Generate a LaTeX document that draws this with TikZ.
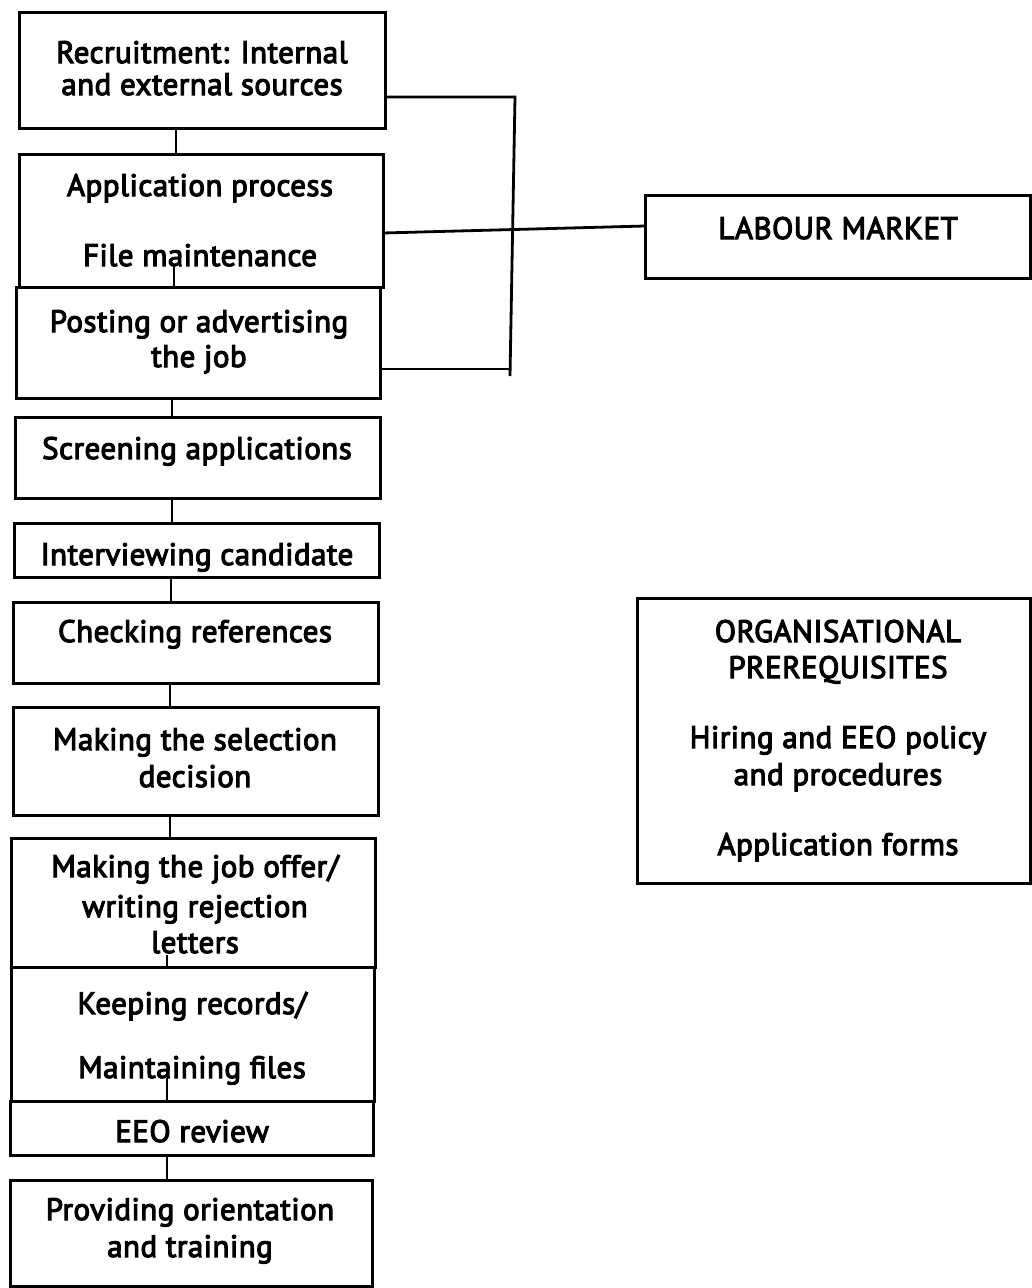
\documentclass[tikz,border=0pt]{standalone}
\usepackage{fontspec}
\setmainfont{PT Sans}[FakeBold=3.6, LetterSpace=1.5]
\usetikzlibrary{fit}
\begin{document}
\begin{tikzpicture}[x=1pt,y=-1pt,
  box/.style={draw, line width=3pt, inner sep=0pt, outer sep=0pt, rectangle},
  txt/.style={anchor=base, inner sep=0pt, font=\fontsize{31}{37}\selectfont},
  link/.style={line width=2.8pt}]
\useasboundingbox (0,0) rectangle (1031,1288);

% main sequence of boxes
\node[box, fit={(19,12) (385,128)}]  (b1) {};
\node[box, fit={(19,154) (383,287)}] (b2) {};
\node[box, fit={(16,287) (380,398)}] (b3) {};
\node[box, fit={(15,417) (380,498)}] (b4) {};
\node[box, fit={(14,523) (379,577)}] (b5) {};
\node[box, fit={(13,602) (378,683)}] (b6) {};
\node[box, fit={(13,707) (378,815)}] (b7) {};
\node[box, fit={(11,838) (375,967)}] (b8) {};
\node[box, fit={(11,967) (374,1101)}] (b9) {};
\node[box, fit={(10,1101) (373,1155)}] (b10) {};
\node[box, fit={(10,1180) (372,1286)}] (b11) {};

% side boxes
\node[box, fit={(645,195) (1030,278)}] (lm) {};
\node[box, fit={(637,598) (1030,883)}] (op) {};

% labels
\node[txt] (t1a) at (202,63) {Recruitment: Internal};
\node[txt] (t1b) at (202,95) {and external sources};
\node[txt] (t2a) at (200,196) {Application process};
\node[txt] (t2b) at (200,266) {File maintenance};
\node[txt] (t3a) at (199,332) {Posting or advertising};
\node[txt] (t3b) at (199,367) {the job};
\node[txt] (t4)  at (197,459) {Screening applications};
\node[txt] (t5)  at (197,565) {Interviewing candidate};
\node[txt] (t6)  at (195,642) {Checking references};
\node[txt] (t7a) at (195,750) {Making the selection};
\node[txt] (t7b) at (195,787) {decision};
\node[txt] (t8a) at (195,877) {Making the job offer/};
\node[txt] (t8b) at (195,917) {writing rejection};
\node[txt] (t8c) at (195,953) {letters};
\node[txt] (t9a) at (192,1014) {Keeping records/};
\node[txt] (t9b) at (192,1078) {Maintaining files};
\node[txt] (t10) at (192,1142) {EEO review};
\node[txt] (t11a) at (190,1220) {Providing orientation};
\node[txt] (t11b) at (190,1257) {and training};
\node[txt] (tl)  at (838,239) {LABOUR MARKET};
\node[txt] (toa) at (838,642) {ORGANISATIONAL};
\node[txt] (tob) at (838,678) {PREREQUISITES};
\node[txt] (toc) at (838,748) {Hiring and EEO policy};
\node[txt] (tod) at (838,785) {and procedures};
\node[txt] (toe) at (838,855) {Application forms};

% spine positions of the vertical links
\coordinate (s1) at (176,0);
\coordinate (s2) at (174,267);
\coordinate (s3) at (172,0);
\coordinate (s4) at (171,0);
\coordinate (s5) at (170,0);
\coordinate (s6) at (167,955);
\coordinate (s7) at (167,1078);
\coordinate (s8) at (167,0);

\draw[link] (b1.south -| s1) -- (b2.north -| s1);
\draw[link] (b3.north -| s2) -- (s2);
\draw[link] (b3.south -| s3) -- (b4.north -| s3);
\draw[link] (b4.south -| s3) -- (b5.north -| s3);
\draw[link] (b5.south -| s4) -- (b6.north -| s4);
\draw[link] (b6.south -| s5) -- (b7.north -| s5);
\draw[link] (b7.south -| s5) -- (b8.north -| s5);
\draw[link] (b9.north -| s6) -- (s6);
\draw[link] (b10.north -| s7) -- (s7);
\draw[link] (b10.south -| s8) -- (b11.north -| s8);

% bracket joining the first three boxes to the labour market
\coordinate (k1) at (515,97);
\coordinate (k2) at (510,376);
\coordinate (k3) at (510,369);
\coordinate (kl) at (0,233);
\coordinate (kr) at (0,226);
\draw[link] (b1.east |- k1) -- (k1) -- (k2);
\draw[link] (b3.east |- k3) -- (k3);
\draw[link] (b2.east |- kl) -- (lm.west |- kr);
\end{tikzpicture}
\end{document}
